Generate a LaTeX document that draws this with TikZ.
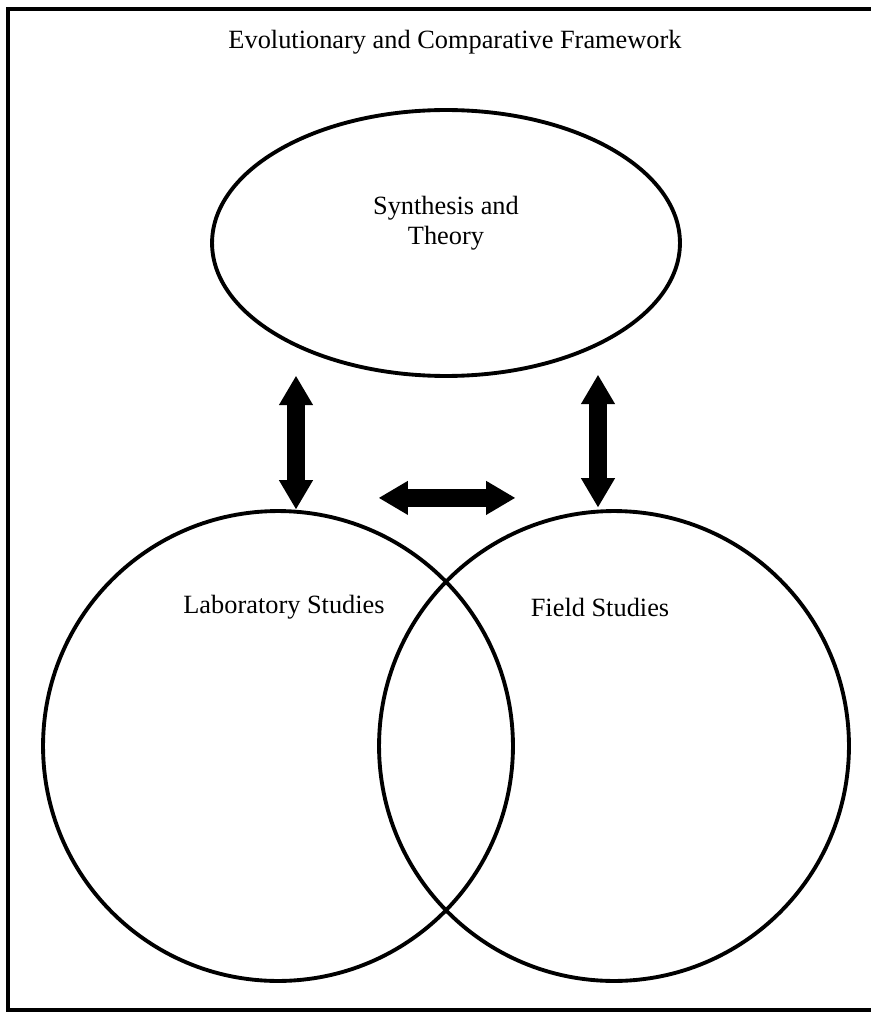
\documentclass[tikz,border=0pt]{standalone}
\usepackage{fontspec}
\setmainfont{Liberation Serif}
\usepackage{tikz}
\usetikzlibrary{shapes, arrows.meta, positioning, calc}

\begin{document}
\begin{tikzpicture}[x=0.02cm, y=-0.02cm,
    ring/.style={draw, line width=2.2pt, circle, minimum size=9.4cm, inner sep=0pt},
    oval/.style={draw, line width=2.2pt, ellipse, minimum width=9.36cm, minimum height=5.32cm, inner sep=0pt},
    tag/.style={font=\fontsize{15}{17}\selectfont, align=center},
    bigarrow/.style={line width=10pt,
      {Triangle[width=19.5pt, length=16.5pt, line width=0pt]}-{Triangle[width=19.5pt, length=16.5pt, line width=0pt]}}]
        \useasboundingbox (0,0) rectangle (870,1013);
        \draw[line width=2pt] (880,9) -- (8,9) -- (8,1010) -- (880,1010);
        \node[tag] (frametitle) at (455,42) {Evolutionary and Comparative Framework};

        \node[oval] (synth) at (446,243) {};
        \node[tag] (synthname) at (446,223) {Synthesis and\\Theory};

        \node[ring] (lab) at (278,746) {};
        \node[ring] (field) at (614,746) {};
        \node[tag] (labname) at (284,607) {Laboratory Studies};
        \node[tag] (fieldname) at (600,607) {Field Studies};

        \draw[bigarrow] ($(lab.north)+(18,-133)$) -- ($(lab.north)+(18,0)$);
        \draw[bigarrow] ($(field.north)+(-16,-134)$) -- ($(field.north)+(-16,-2)$);
        \draw[bigarrow] ($(synth.south)+(-67,120)$) -- ($(synth.south)+(69,120)$);
      \end{tikzpicture}
\end{document}
